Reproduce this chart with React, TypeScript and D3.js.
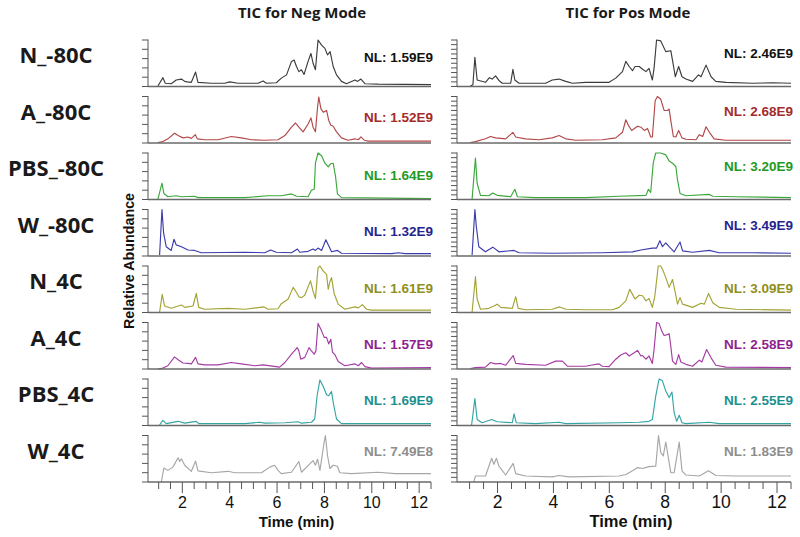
import React from "react";
import * as d3 from "d3";

// ---------- data ----------
const samples = ["N_-80C", "A_-80C", "PBS_-80C", "W_-80C", "N_4C", "A_4C", "PBS_4C", "W_4C"];
const modeTitles = ["TIC for Neg Mode", "TIC for Pos Mode"];
const nlNeg = ["1.59E9", "1.52E9", "1.64E9", "1.32E9", "1.61E9", "1.57E9", "1.69E9", "7.49E8"];
const nlPos = ["2.46E9", "2.68E9", "3.20E9", "3.49E9", "3.09E9", "2.58E9", "2.55E9", "1.83E9"];
const xTickValues = [2, 4, 6, 8, 10, 12];
const timeDomain = [0.55, 12.5];

type P = [number, number];

// Negative mode traces: [time (min), relative abundance %]
const negN80: P[] = [[0.97,1],[1.18,19],[1.28,7],[1.53,6],[1.74,14],[1.96,16],[2.1,11],[2.21,10],[2.38,9],[2.56,31],[2.66,9],[3.22,7],[3.79,7],[4.0,10],[4.35,7],[5.2,7],[5.41,12],[5.55,7],[5.97,8],[6.18,18],[6.4,25],[6.61,54],[6.72,57],[6.82,43],[6.92,32],[7.03,36],[7.14,26],[7.31,54],[7.43,71],[7.52,50],[7.62,36],[7.73,100],[7.88,89],[8.02,82],[8.13,68],[8.24,75],[8.37,43],[8.51,25],[8.72,11],[8.93,6],[9.29,14],[9.4,11],[9.54,16],[9.71,6],[10.27,5],[12.5,4]];
const negA80: P[] = [[0.97,1],[1.18,3],[1.39,9],[1.67,21],[1.82,16],[2.03,11],[2.24,13],[2.38,10],[2.55,18],[2.63,9],[2.94,7],[3.51,7],[4.07,14],[4.49,11],[4.92,7],[5.48,6],[6.04,7],[6.33,16],[6.61,34],[6.78,43],[6.92,34],[7.1,24],[7.31,41],[7.43,54],[7.52,34],[7.62,24],[7.71,77],[7.76,99],[7.85,74],[7.95,66],[8.09,70],[8.18,49],[8.27,38],[8.37,36],[8.51,24],[8.72,11],[9.0,6],[9.29,9],[9.43,7],[9.54,13],[9.68,6],[9.85,4],[12.5,4]];
const negPBS80: P[] = [[0.97,1],[1.14,35],[1.22,13],[1.39,6],[1.74,8],[1.96,6],[2.52,7],[2.66,4],[4.63,4],[5.62,8],[6.18,8],[6.61,12],[6.82,7],[7.31,6],[7.45,20],[7.57,22],[7.62,78],[7.73,100],[7.88,94],[8.02,78],[8.16,70],[8.27,77],[8.37,78],[8.47,49],[8.55,12],[8.72,4],[12.5,2]];
const negW80: P[] = [[1.04,2],[1.14,100],[1.21,49],[1.32,20],[1.53,12],[1.65,36],[1.74,24],[1.96,20],[2.24,13],[2.52,12],[2.8,7],[4.63,8],[5.48,7],[5.73,13],[5.97,8],[6.61,7],[6.86,15],[6.96,8],[7.31,10],[7.52,15],[7.62,12],[7.73,17],[7.88,12],[8.06,35],[8.16,24],[8.3,9],[8.55,12],[8.72,6],[10.84,5],[11.12,7],[11.4,5],[12.5,5]];
const negN4: P[] = [[1.04,1],[1.15,39],[1.25,14],[1.53,9],[1.96,16],[2.1,11],[2.45,14],[2.59,41],[2.69,11],[2.94,7],[3.93,9],[4.63,7],[5.45,12],[5.62,7],[6.04,8],[6.18,19],[6.47,29],[6.68,54],[6.82,43],[6.92,34],[7.03,32],[7.17,37],[7.41,68],[7.52,46],[7.62,30],[7.73,96],[7.81,100],[7.95,89],[8.09,82],[8.16,50],[8.23,66],[8.3,75],[8.41,41],[8.58,18],[8.86,7],[9.29,12],[9.43,10],[9.6,17],[9.78,7],[9.99,5],[12.5,5]];
const negA4: P[] = [[0.97,0],[1.18,2],[1.39,7],[1.67,26],[1.82,20],[2.03,13],[2.24,12],[2.38,11],[2.56,25],[2.66,11],[2.94,9],[3.51,9],[4.07,14],[4.49,11],[5.06,7],[5.41,9],[6.11,4],[6.33,14],[6.61,32],[6.85,46],[6.92,39],[7.0,21],[7.17,25],[7.35,46],[7.45,39],[7.57,32],[7.64,39],[7.73,98],[7.88,82],[7.99,68],[8.09,68],[8.18,54],[8.27,64],[8.34,36],[8.44,31],[8.58,16],[8.86,7],[9.29,11],[9.43,7],[9.57,14],[9.71,5],[9.99,2],[12.5,3]];
const negPBS4: P[] = [[1.04,1],[1.18,11],[1.32,4],[1.82,9],[2.1,5],[2.59,9],[2.69,4],[4.63,4],[5.27,7],[5.48,5],[6.33,6],[6.89,8],[7.03,5],[7.45,7],[7.59,14],[7.69,64],[7.81,98],[7.95,84],[8.09,66],[8.18,64],[8.3,73],[8.37,50],[8.51,14],[8.72,4],[12.5,4]];
const negW4: P[] = [[1.11,0],[1.22,30],[1.39,25],[1.6,32],[1.82,52],[1.89,44],[1.96,50],[2.1,36],[2.38,23],[2.56,45],[2.66,24],[3.22,20],[3.93,23],[4.21,20],[5.34,20],[5.69,32],[5.9,36],[6.04,25],[6.18,18],[6.61,21],[6.92,44],[7.03,21],[7.38,39],[7.52,46],[7.62,36],[7.71,49],[7.81,25],[7.99,86],[8.04,100],[8.13,57],[8.23,29],[8.37,36],[8.55,34],[8.65,20],[9.14,18],[10.27,21],[10.98,18],[12.5,18]];

// Positive mode traces
const posN80: P[] = [[1.03,1],[1.12,4],[1.19,63],[1.27,14],[1.57,9],[1.71,19],[1.81,16],[1.93,23],[2.05,13],[2.17,7],[2.47,7],[2.55,37],[2.62,14],[2.77,7],[3.72,7],[3.96,14],[4.2,16],[4.44,11],[4.68,7],[5.15,9],[5.99,9],[6.23,18],[6.47,32],[6.59,54],[6.71,43],[6.83,34],[6.92,43],[7.07,43],[7.19,37],[7.31,32],[7.42,39],[7.54,14],[7.6,39],[7.69,100],[7.84,98],[8.02,75],[8.2,77],[8.29,46],[8.36,21],[8.48,43],[8.6,21],[8.74,16],[8.98,11],[9.19,25],[9.28,21],[9.46,46],[9.64,21],[9.81,11],[10.17,9],[11.13,7],[11.85,8],[12.5,7]];
const posA80: P[] = [[1.03,1],[1.21,3],[1.57,9],[1.75,14],[1.93,11],[2.29,9],[2.55,23],[2.65,13],[3.0,9],[3.48,7],[3.96,11],[4.2,16],[4.44,9],[4.8,6],[5.75,7],[6.23,11],[6.47,23],[6.59,50],[6.68,38],[6.8,27],[7.01,36],[7.13,34],[7.25,27],[7.37,31],[7.48,13],[7.54,13],[7.64,91],[7.72,100],[7.84,94],[7.96,70],[8.08,70],[8.14,73],[8.2,48],[8.29,14],[8.38,13],[8.48,27],[8.6,11],[8.74,8],[9.1,7],[9.22,18],[9.34,14],[9.46,35],[9.58,23],[9.75,9],[10.17,6],[12.5,6]];
const posPBS80: P[] = [[1.09,1],[1.21,89],[1.27,35],[1.39,9],[1.69,8],[1.83,14],[1.99,9],[2.47,6],[2.62,22],[2.71,6],[3.36,4],[5.15,4],[6.35,7],[7.31,9],[7.4,22],[7.48,15],[7.57,78],[7.66,100],[7.84,100],[8.02,96],[8.14,83],[8.26,78],[8.38,71],[8.44,42],[8.53,13],[8.74,8],[9.58,11],[9.7,7],[10.53,6],[12.5,4]];
const posW80: P[] = [[1.09,2],[1.19,100],[1.24,64],[1.33,20],[1.57,9],[1.83,19],[2.05,9],[2.59,12],[2.77,7],[3.96,6],[5.75,7],[6.83,9],[7.13,13],[7.54,17],[7.69,17],[7.81,33],[7.9,20],[8.02,28],[8.14,20],[8.32,9],[8.53,30],[8.62,11],[8.98,8],[9.58,12],[9.93,7],[11.13,7],[12.5,6]];
const posN4: P[] = [[1.09,1],[1.21,77],[1.27,29],[1.39,7],[1.69,9],[1.87,14],[1.99,18],[2.11,11],[2.53,9],[2.65,34],[2.74,9],[3.0,6],[3.96,7],[4.22,12],[4.44,7],[5.15,6],[6.11,6],[6.35,11],[6.59,25],[6.73,50],[6.83,39],[6.92,29],[7.07,37],[7.19,36],[7.31,25],[7.42,30],[7.54,11],[7.63,36],[7.75,100],[7.84,100],[7.93,89],[8.02,75],[8.14,54],[8.26,71],[8.36,43],[8.44,18],[8.53,32],[8.62,18],[8.98,11],[9.28,20],[9.4,18],[9.55,41],[9.7,21],[9.93,11],[10.53,7],[12.5,5]];
const posA4: P[] = [[1.03,1],[1.21,3],[1.57,4],[1.75,14],[1.93,11],[2.11,12],[2.29,8],[2.56,29],[2.65,12],[3.0,10],[3.72,8],[4.08,17],[4.32,17],[4.5,6],[5.15,6],[5.33,8],[5.63,11],[5.75,6],[5.99,5],[6.23,21],[6.41,30],[6.59,35],[6.71,28],[6.89,35],[7.01,40],[7.13,28],[7.19,29],[7.31,21],[7.42,28],[7.54,12],[7.6,42],[7.69,100],[7.78,98],[7.88,81],[7.96,72],[8.08,74],[8.14,76],[8.2,49],[8.26,17],[8.38,10],[8.48,31],[8.56,15],[8.74,10],[8.98,6],[9.22,19],[9.31,15],[9.48,42],[9.64,24],[9.81,8],[10.17,4],[12.5,3]];
const posPBS4: P[] = [[1.07,0],[1.19,58],[1.27,13],[1.45,6],[1.79,13],[1.99,8],[2.53,6],[2.59,25],[2.67,6],[3.36,4],[4.2,7],[4.44,4],[6.35,6],[7.07,7],[7.42,9],[7.54,13],[7.66,63],[7.78,100],[7.9,96],[8.02,74],[8.14,60],[8.24,72],[8.32,27],[8.41,9],[8.5,22],[8.6,6],[8.74,4],[9.58,7],[9.93,4],[12.5,4]];
const posW4: P[] = [[1.15,0],[1.21,13],[1.57,13],[1.69,34],[1.79,51],[1.87,38],[1.96,51],[2.05,34],[2.29,15],[2.56,40],[2.65,18],[3.0,13],[3.96,11],[4.2,14],[4.56,11],[6.35,13],[6.59,16],[6.83,24],[7.01,31],[7.19,29],[7.42,33],[7.66,34],[7.76,100],[7.84,63],[7.93,56],[8.02,86],[8.12,49],[8.2,20],[8.32,20],[8.5,86],[8.6,24],[8.74,15],[9.22,13],[9.55,24],[9.81,14],[10.53,13],[12.5,13]];

const negTraces = [negN80, negA80, negPBS80, negW80, negN4, negA4, negPBS4, negW4];
const posTraces = [posN80, posA80, posPBS80, posW80, posN4, posA4, posPBS4, posW4];

// ---------- styles / layout ----------
const lineColors = ["#3c3c3c", "#b34848", "#3ca83c", "#3c3cae", "#a3a336", "#a43ca4", "#36a4a4", "#a6a6a6"];
const textColors = ["#111111", "#a52a2a", "#229a22", "#24248f", "#8f8f1c", "#8e1f8e", "#1d8f8f", "#8d8d8d"];
const nlOffsetNeg = [16.7, 20.8, 22, 21.5, 21.7, 21.8, 21, 15.5];
const nlOffsetPos = [13.3, 14.5, 13, 15.5, 22.3, 21.8, 21, 15.5];

const W = 800;
const H = 537;
const TOP0 = 40;
const STEP = 56.5;
const PH = 46.5;
const AXIS = "#555";

const columns = [
  { title: modeTitles[0], traces: negTraces, nl: nlNeg, nlOff: nlOffsetNeg, range: [148, 431], yTicks: d3.range(0, 101, 20), titleX: 302, tickFont: 16, timeFont: 15 },
  { title: modeTitles[1], traces: posTraces, nl: nlPos, nlOff: nlOffsetPos, range: [457, 791], yTicks: d3.range(0, 101, 10), titleX: 628, tickFont: 17.5, timeFont: 16.5 },
];

export default function App() {
  const minorTicks = d3.range(1, 12.51, 0.5);
  return (
    <svg width={W} height={H} style={{ position: "absolute", left: 0, top: 0, background: "#fff" }}>
      <rect width={W} height={H} fill="#fff" />
      {samples.map((s, i) => (
        <text key={s} x={56} y={TOP0 + i * STEP + 23} textAnchor="middle" fontFamily="'Open Sans', sans-serif" fontWeight={700} fontSize={22} fill="#1a1a1a">
          {s}
        </text>
      ))}
      <text transform="translate(134,261) rotate(-90)" textAnchor="middle" fontFamily="'Liberation Sans', Arial, sans-serif" fontWeight={700} fontSize={14.3} fill="#111">
        Relative Abundance
      </text>
      {columns.map((col, ci) => {
        const x = d3.scaleLinear().domain(timeDomain).range(col.range);
        const [x0, x1] = col.range;
        return (
          <g key={ci}>
            <text x={col.titleX} y={18} textAnchor="middle" fontFamily="'Open Sans', sans-serif" fontWeight={700} fontSize={15} fill="#1a1a1a">
              {col.title}
            </text>
            {col.traces.map((tr, ri) => {
              const top = TOP0 + ri * STEP;
              const y = d3.scaleLinear().domain([0, 100]).range([top + PH, top]);
              const line = d3
                .line<P>()
                .x((d) => x(d[0]))
                .y((d) => y(Math.min(d[1], 100)));
              return (
                <g key={ri}>
                  <path d={line(tr) || ""} fill="none" stroke={lineColors[ri]} strokeWidth={1.15} strokeLinejoin="round" />
                  <line x1={x0} x2={x1} y1={top + PH} y2={top + PH} stroke="#6a6a6a" strokeWidth={1.6} />
                  <line x1={x0} x2={x0} y1={top - 0.5} y2={top + PH} stroke={AXIS} strokeWidth={1} />
                  {col.yTicks.map((t) => (
                    <line key={t} x1={x0 - 6} x2={x0} y1={y(t)} y2={y(t)} stroke={AXIS} strokeWidth={1} />
                  ))}
                  <text x={x1 + 2} y={top + col.nlOff[ri] + 4.8} textAnchor="end" fontFamily="'Liberation Sans', Arial, sans-serif" fontWeight={700} fontSize={13.5} fill={textColors[ri]}>
                    {"NL: " + col.nl[ri]}
                  </text>
                </g>
              );
            })}
            {(() => {
              const base = TOP0 + 7 * STEP + PH;
              return (
                <g>
                  {minorTicks.map((t) => {
                    const major = xTickValues.includes(t);
                    return <line key={t} x1={x(t)} x2={x(t)} y1={base} y2={base + (major ? 11 : 7)} stroke={AXIS} strokeWidth={1} />;
                  })}
                  {xTickValues.map((t) => (
                    <text key={t} x={x(t)} y={508} textAnchor="middle" fontFamily="'Liberation Sans', Arial, sans-serif" fontSize={col.tickFont} fill="#111">
                      {t}
                    </text>
                  ))}
                  <text x={(x0 + x1) / 2 + 7} y={526.5} textAnchor="middle" fontFamily="'Liberation Sans', Arial, sans-serif" fontWeight={700} fontSize={col.timeFont} fill="#111">
                    Time (min)
                  </text>
                </g>
              );
            })()}
          </g>
        );
      })}
    </svg>
  );
}
